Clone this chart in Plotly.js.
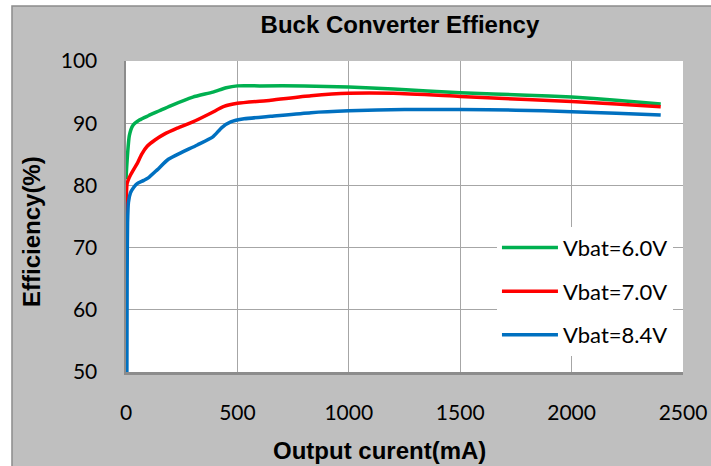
<!DOCTYPE html>
<html>
<head>
<meta charset="utf-8">
<script src="https://cdn.plot.ly/plotly-3.0.1.min.js"></script>
<style>html,body{margin:0;padding:0;background:#fff;}#chart{width:711px;height:466px;}</style>
</head>
<body>
<div id="chart"></div>
<script>
// Series data
const seriesNames = ["Vbat=6.0V", "Vbat=7.0V", "Vbat=8.4V"];
const greenX = [0, 5, 15, 30, 60, 100, 150, 200, 300, 390, 450, 500, 600, 800, 1000, 1200, 1500, 1800, 2000, 2200, 2400];
const greenY = [81, 84, 88, 89.6, 90.5, 91.2, 92.0, 92.8, 94.2, 95.0, 95.7, 96.0, 96.0, 96.0, 95.8, 95.5, 94.9, 94.5, 94.2, 93.7, 93.1];
const redX = [0, 5, 15, 30, 50, 70, 95, 130, 170, 230, 300, 380, 440, 500, 650, 830, 1000, 1200, 1500, 1800, 2000, 2200, 2400];
const redY = [75, 80.3, 81.3, 82.3, 83.5, 85.0, 86.3, 87.3, 88.2, 89.2, 90.2, 91.6, 92.7, 93.2, 93.7, 94.4, 94.8, 94.8, 94.3, 93.8, 93.5, 93.1, 92.65];
const blueX = [4, 5, 7, 11, 20, 35, 50, 80, 100, 140, 190, 250, 320, 390, 430, 470, 530, 650, 830, 1000, 1250, 1500, 1750, 2000, 2200, 2400];
const blueY = [50, 65, 74, 77.3, 78.8, 79.7, 80.3, 80.8, 81.2, 82.5, 84.2, 85.3, 86.5, 87.8, 89.3, 90.2, 90.7, 91.1, 91.7, 92.0, 92.2, 92.2, 92.1, 91.85, 91.6, 91.3];
const xTicks = [0, 500, 1000, 1500, 2000, 2500];
const yTicks = [50, 60, 70, 80, 90, 100];

const colors = ["#00b050", "#ff0000", "#0070c0"];
const xs = [greenX, redX, blueX];
const ys = [greenY, redY, blueY];

const traces = xs.map((x, i) => ({
  x: x, y: ys[i], type: "scatter", mode: "lines", name: seriesNames[i],
  legendgroup: "g" + i,
  line: {color: colors[i], width: 3.5, shape: "spline", smoothing: 0.6}
}));

const tickFont = {family: "Lato, 'Open Sans', sans-serif", size: 21, color: "#000"};
const boldFont = {family: "'Liberation Sans', Arial, sans-serif", size: 24, color: "#000", weight: "bold"};

const layout = {
  width: 711, height: 466,
  margin: {l: 126, r: 28, t: 61, b: 94},
  paper_bgcolor: "#ffffff",
  plot_bgcolor: "#ffffff",
  title: {text: "<b>Buck Converter Effiency</b>", font: boldFont, x: 0.5625, xanchor: "center", y: 0.948, yanchor: "middle"},
  xaxis: {
    range: [0, 2500], tickvals: xTicks, ticktext: xTicks.map(String),
    showgrid: true, gridcolor: "#a6a6a6", gridwidth: 1.3,
    zeroline: false, showline: true, linecolor: "#8c8c8c", linewidth: 2.5,
    ticks: "", tickfont: tickFont, ticklabelstandoff: 20, fixedrange: true
  },
  yaxis: {
    range: [50, 100], tickvals: yTicks, ticktext: yTicks.map(String),
    showgrid: true, gridcolor: "#a6a6a6", gridwidth: 1.3,
    zeroline: false, showline: true, linecolor: "#8c8c8c", linewidth: 2.5,
    ticks: "", tickfont: tickFont, ticklabelstandoff: 22, fixedrange: true
  },
  legend: {
    x: 0.666, y: 0.467, xanchor: "left", yanchor: "top",
    bgcolor: "#ffffff", borderwidth: 0,
    font: {family: "Lato, 'Open Sans', sans-serif", size: 22, color: "#000"},
    itemwidth: 56, tracegroupgap: 12, traceorder: "grouped"
  },
  shapes: [
    {type: "rect", xref: "paper", yref: "paper", x0: -0.2047, x1: 1.06, y0: -0.31, y1: 1.1768,
     fillcolor: "#bfbfbf", line: {color: "#8c8c8c", width: 1.5}, layer: "below"},
    {type: "rect", xref: "paper", yref: "paper", x0: 0, x1: 1, y0: 0, y1: 1,
     fillcolor: "#ffffff", line: {width: 0}, layer: "below"}
  ],
  annotations: [
    {text: "<b>Output curent(mA)</b>", xref: "paper", yref: "paper", x: (379 - 126) / 557, y: (372 - 450) / 311,
     xanchor: "center", yanchor: "middle", showarrow: false, font: boldFont},
    {text: "<b>Efficiency(%)</b>", xref: "paper", yref: "paper", x: (31 - 126) / 557, y: (372 - 232) / 311,
     xanchor: "center", yanchor: "middle", showarrow: false, textangle: -90, font: boldFont}
  ],
  showlegend: true
};

Plotly.newPlot("chart", traces, layout, {staticPlot: true, displayModeBar: false});
</script>
</body>
</html>
